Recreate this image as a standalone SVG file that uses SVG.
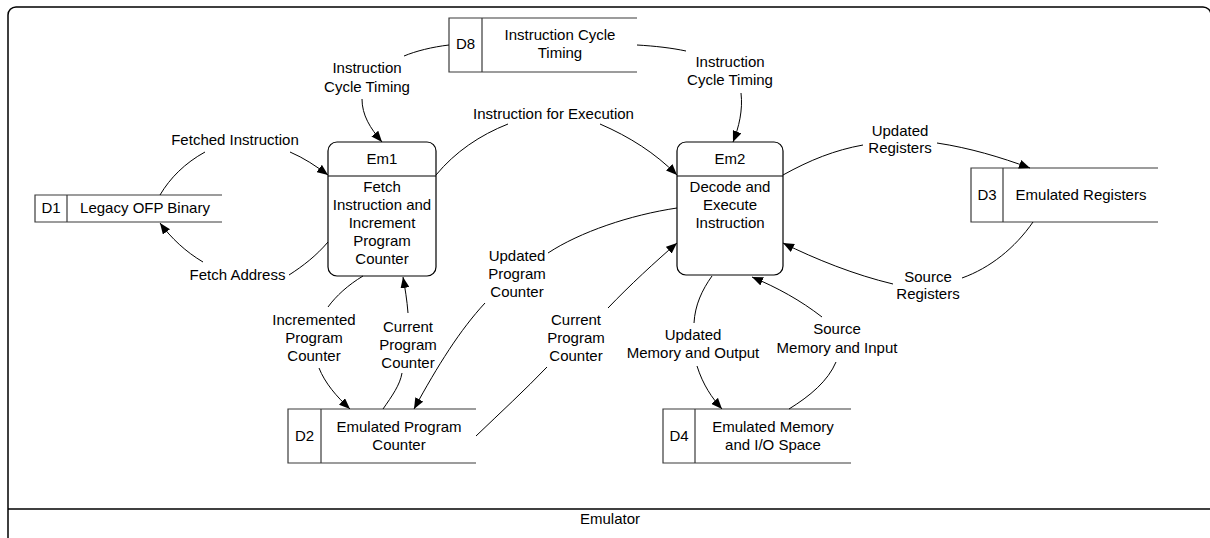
<svg xmlns="http://www.w3.org/2000/svg" width="1210" height="538" viewBox="0 0 1210 538">
  <style>
    text { font-family: "Liberation Sans", Arial, sans-serif; font-size: 15px; fill: #000; text-anchor: middle; }
    .frame { fill: none; stroke: #000; stroke-width: 1.5; }
    .store { fill: none; stroke: #3a3a3a; stroke-width: 1.2; }
    .proc { fill: #fff; stroke: #000; stroke-width: 1.2; }
    .flow { fill: none; stroke: #000; stroke-width: 1; }
    .arrow { fill: none; stroke: #000; stroke-width: 1; marker-end: url(#head); }
  </style>
  <defs>
    <marker id="head" markerUnits="userSpaceOnUse" markerWidth="11" markerHeight="9" refX="11" refY="4.5" orient="auto">
      <path d="M0,0 L11,4.5 L0,9 z" fill="#000"/>
    </marker>
  </defs>

  <rect width="1210" height="538" fill="#fff"/>

  <!-- Emulator boundary -->
  <g id="emulator-frame">
    <rect class="frame" x="8" y="7" width="1203" height="545" rx="8" ry="8"/>
    <line class="frame" x1="8" y1="509" x2="1211" y2="509"/>
    <text x="610" y="524">Emulator</text>
  </g>

  <!-- Data stores -->
  <g id="D8">
    <path class="store" d="M637,18 H449 V72 H637 M482,18 V72"/>
    <text x="465.5" y="49">D8</text>
    <text x="560" y="40">Instruction Cycle</text>
    <text x="560" y="58">Timing</text>
  </g>
  <g id="D1">
    <path class="store" d="M222,195 H35 V222 H222 M67,195 V222"/>
    <text x="51" y="213">D1</text>
    <text x="145" y="213">Legacy OFP Binary</text>
  </g>
  <g id="D3">
    <path class="store" d="M1158,168 H971 V222 H1158 M1003,168 V222"/>
    <text x="987" y="200">D3</text>
    <text x="1081" y="200">Emulated Registers</text>
  </g>
  <g id="D2">
    <path class="store" d="M476,409 H288 V463 H476 M321,409 V463"/>
    <text x="304.5" y="441">D2</text>
    <text x="399" y="432">Emulated Program</text>
    <text x="399" y="450">Counter</text>
  </g>
  <g id="D4">
    <path class="store" d="M851,409 H663 V463 H851 M695,409 V463"/>
    <text x="679" y="441">D4</text>
    <text x="773" y="432">Emulated Memory</text>
    <text x="773" y="450">and I/O Space</text>
  </g>

  <!-- Processes -->
  <g id="Em1">
    <rect class="proc" x="328" y="142" width="108" height="134" rx="9" ry="9"/>
    <line class="proc" x1="328" y1="176" x2="436" y2="176"/>
    <text x="382" y="164">Em1</text>
    <text x="382" y="192">Fetch</text>
    <text x="382" y="210">Instruction and</text>
    <text x="382" y="228">Increment</text>
    <text x="382" y="246">Program</text>
    <text x="382" y="264">Counter</text>
  </g>
  <g id="Em2">
    <rect class="proc" x="677" y="142" width="106" height="133" rx="9" ry="9"/>
    <line class="proc" x1="677" y1="176" x2="783" y2="176"/>
    <text x="730" y="164">Em2</text>
    <text x="730" y="192">Decode and</text>
    <text x="730" y="210">Execute</text>
    <text x="730" y="228">Instruction</text>
  </g>

  <!-- Data flows -->
  <g id="connectors">
    <!-- D8 to Em1 -->
    <path class="flow" d="M449,45 C432,47 416,51 404,56"/>
    <path class="arrow" d="M362,99 C362,115 370,128 382,142"/>
    <!-- D8 to Em2 -->
    <path class="flow" d="M637,45 C655,46 672,48 686,51"/>
    <path class="arrow" d="M741,93 C743,110 739,127 733,142"/>
    <!-- D1 to Em1 -->
    <path class="flow" d="M160,195 C170,178 185,163 205,152"/>
    <path class="arrow" d="M290,152 C304,158 316,166 328,175"/>
    <!-- Em1 to D1 -->
    <path class="flow" d="M328,242 C316,256 303,266 289,275"/>
    <path class="arrow" d="M203,262 C186,252 171,238 160,223"/>
    <!-- Em1 to Em2 -->
    <path class="flow" d="M436,175 C455,152 480,135 508,124"/>
    <path class="arrow" d="M600,124 C630,137 655,153 677,175"/>
    <!-- Em2 to D3 -->
    <path class="flow" d="M783,175 C810,160 835,150 863,145"/>
    <path class="arrow" d="M937,143 C970,148 1000,157 1030,168"/>
    <!-- D3 to Em2 -->
    <path class="flow" d="M1033,222 C1015,248 990,268 962,278"/>
    <path class="arrow" d="M893,284 C855,275 815,259 783,243"/>
    <!-- Em2 to D4 -->
    <path class="flow" d="M712,276 C702,290 695,305 694,323"/>
    <path class="arrow" d="M697,366 C703,385 712,398 722,409"/>
    <!-- D4 to Em2 -->
    <path class="flow" d="M789,409 C810,396 828,381 836,362"/>
    <path class="arrow" d="M822,317 C800,300 778,288 752,277"/>
    <!-- Em1 to D2 -->
    <path class="flow" d="M363,276 C348,285 336,296 328,307"/>
    <path class="arrow" d="M319,368 C325,383 336,396 350,409"/>
    <!-- D2 to Em1 -->
    <path class="flow" d="M383,409 C392,396 400,385 402,373"/>
    <path class="arrow" d="M408,313 C407,300 405,288 403,277"/>
    <!-- Em2 to D2 -->
    <path class="flow" d="M677,208 C630,215 580,232 548,253"/>
    <path class="arrow" d="M485,303 C460,330 438,365 414,409"/>
    <!-- D2 to Em2 -->
    <path class="flow" d="M476,436 C500,413 525,390 547,367"/>
    <path class="arrow" d="M608,308 C630,285 655,262 677,243"/>
  </g>

  <!-- Flow labels -->
  <g id="flow-labels">
    <text x="367" y="73">Instruction</text>
    <text x="367" y="92">Cycle Timing</text>
    <text x="730" y="67">Instruction</text>
    <text x="730" y="85">Cycle Timing</text>
    <text x="235" y="145">Fetched Instruction</text>
    <text x="237.5" y="280">Fetch Address</text>
    <text x="553.5" y="119">Instruction for Execution</text>
    <text x="900" y="136">Updated</text>
    <text x="900" y="153">Registers</text>
    <text x="928" y="282">Source</text>
    <text x="928" y="299">Registers</text>
    <text x="693" y="340">Updated</text>
    <text x="693" y="358">Memory and Output</text>
    <text x="837" y="334">Source</text>
    <text x="837" y="353">Memory and Input</text>
    <text x="314" y="325">Incremented</text>
    <text x="314" y="343">Program</text>
    <text x="314" y="361">Counter</text>
    <text x="408" y="332">Current</text>
    <text x="408" y="350">Program</text>
    <text x="408" y="368">Counter</text>
    <text x="517" y="261">Updated</text>
    <text x="517" y="279">Program</text>
    <text x="517" y="297">Counter</text>
    <text x="576" y="325">Current</text>
    <text x="576" y="343">Program</text>
    <text x="576" y="361">Counter</text>
  </g>
</svg>
